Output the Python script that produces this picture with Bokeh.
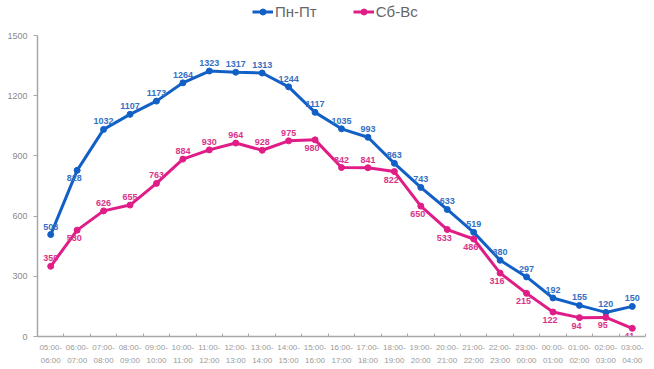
from bokeh.plotting import figure
from bokeh.models import ColumnDataSource, FixedTicker, Legend, LegendItem, Range1d
from bokeh.core.properties import value
from bokeh.embed import file_html
from bokeh.resources import INLINE

# ---- data ----
categories = ["05:00-06:00", "06:00-07:00", "07:00-08:00", "08:00-09:00", "09:00-10:00",
              "10:00-11:00", "11:00-12:00", "12:00-13:00", "13:00-14:00", "14:00-15:00",
              "15:00-16:00", "16:00-17:00", "17:00-18:00", "18:00-19:00", "19:00-20:00",
              "20:00-21:00", "21:00-22:00", "22:00-23:00", "23:00-00:00", "00:00-01:00",
              "01:00-02:00", "02:00-03:00", "03:00-04:00"]
weekdays = [508, 828, 1032, 1107, 1173, 1264, 1323, 1317, 1313, 1244, 1117, 1035, 993,
            863, 743, 633, 519, 380, 297, 192, 155, 120, 150]
weekend = [350, 530, 626, 655, 763, 884, 930, 964, 928, 975, 980, 842, 841, 822, 650,
           533, 486, 316, 215, 122, 94, 95, 41]
series_names = ["Пн-Пт", "Сб-Вс"]
y_ticks = [0, 300, 600, 900, 1200, 1500]

# label placement (style): 'a' above, 'b' below
weekday_label_side = ["a", "b", "a", "a", "a", "a", "a", "a", "a", "a", "a", "a", "a",
                      "a", "a", "a", "a", "a", "a", "a", "a", "a", "a"]
weekend_label_side = ["a", "b", "a", "a", "a", "a", "a", "a", "a", "a", "b", "a", "a",
                      "b", "b", "b", "b", "b", "b", "b", "b", "b", "b"]

BLUE = "#1260C6"
PINK = "#E01C86"
BLUE_TXT = "#3570C4"
PINK_TXT = "#D8348A"
AXIS = "#a8a8a8"
FONT = "Liberation Sans"

W, H = 654, 369
LEFT, RIGHT, BOTTOM = 37, 9, 33
AXIS_TOP_PX = 35  # pixel row where the top tick of the value axis sits
frame_h = H - BOTTOM
y_end = y_ticks[-1] * frame_h / (frame_h - AXIS_TOP_PX)

xs = list(range(len(categories)))

p = figure(width=W, height=H, output_backend="svg", toolbar_location=None,
           x_range=Range1d(-0.5, len(categories) - 0.5), y_range=Range1d(0, y_end),
           min_border_left=LEFT, min_border_right=RIGHT, min_border_top=0,
           min_border_bottom=BOTTOM)
p.outline_line_color = None
p.xgrid.visible = False
p.ygrid.visible = False
p.background_fill_color = "white"
p.border_fill_color = "white"

# axes
p.yaxis.ticker = FixedTicker(ticks=y_ticks)
p.yaxis.bounds = (y_ticks[0], y_ticks[-1])
p.yaxis.major_tick_in = 0
p.yaxis.major_tick_out = 4
p.yaxis.minor_tick_line_color = None
p.yaxis.minor_tick_in = 0
p.yaxis.minor_tick_out = 0
p.yaxis.axis_line_color = AXIS
p.yaxis.axis_line_width = 1.5
p.yaxis.major_tick_line_color = AXIS
p.yaxis.major_label_text_font = FONT
p.yaxis.major_label_text_font_size = "9px"
p.yaxis.major_label_text_color = "#8a8a8a"
p.yaxis.major_label_standoff = 6

p.xaxis.ticker = FixedTicker(ticks=xs, minor_ticks=[i + 0.5 for i in range(-1, len(categories))])
p.xaxis.major_label_overrides = {i: c.replace("-", "-\n") for i, c in enumerate(categories)}
p.xaxis.major_tick_line_color = None
p.xaxis.major_tick_in = 0
p.xaxis.major_tick_out = 0
p.xaxis.minor_tick_in = 3
p.xaxis.minor_tick_out = 0
p.xaxis.minor_tick_line_color = AXIS
p.xaxis.axis_line_color = AXIS
p.xaxis.axis_line_width = 1.5
p.xaxis.major_label_text_font = FONT
p.xaxis.major_label_text_font_size = "8px"
p.xaxis.major_label_text_line_height = 1.5
p.xaxis.major_label_text_color = "#9a9a9a"
p.xaxis.major_label_standoff = 6

src = ColumnDataSource(dict(x=xs, wd=weekdays, we=weekend))

l1 = p.line("x", "wd", source=src, line_color=BLUE, line_width=3)
m1 = p.scatter("x", "wd", source=src, size=6, fill_color=BLUE, line_color=BLUE)
l2 = p.line("x", "we", source=src, line_color=PINK, line_width=3)
m2 = p.scatter("x", "we", source=src, size=6, fill_color=PINK, line_color=PINK)


def add_labels(vals, sides, color):
    for side, base, dy, dx in (("a", "bottom", -5, 0), ("b", "top", 5, -3)):
        idx = [i for i, s in enumerate(sides) if s == side]
        if not idx:
            continue
        s = ColumnDataSource(dict(x=[xs[i] for i in idx], y=[vals[i] for i in idx],
                                  t=[str(vals[i]) for i in idx]))
        p.text("x", "y", text="t", source=s, text_font=value(FONT), text_font_style="bold",
               text_font_size="9px", text_color=color, text_align="center",
               text_baseline=base, y_offset=dy, x_offset=dx)


add_labels(weekdays, weekday_label_side, BLUE_TXT)
add_labels(weekend, weekend_label_side, PINK_TXT)

legend = Legend(items=[LegendItem(label=series_names[0], renderers=[l1, m1]),
                       LegendItem(label=series_names[1], renderers=[l2, m2])],
                orientation="horizontal", location=(215, frame_h - 20),
                label_text_font=FONT, label_text_font_size="15px",
                label_text_color="#666666", glyph_width=21, glyph_height=15,
                label_height=15, label_standoff=2, spacing=36, padding=0, margin=0,
                background_fill_alpha=0, border_line_alpha=0)
p.add_layout(legend)

open("out.html", "w").write(file_html(p, INLINE))
